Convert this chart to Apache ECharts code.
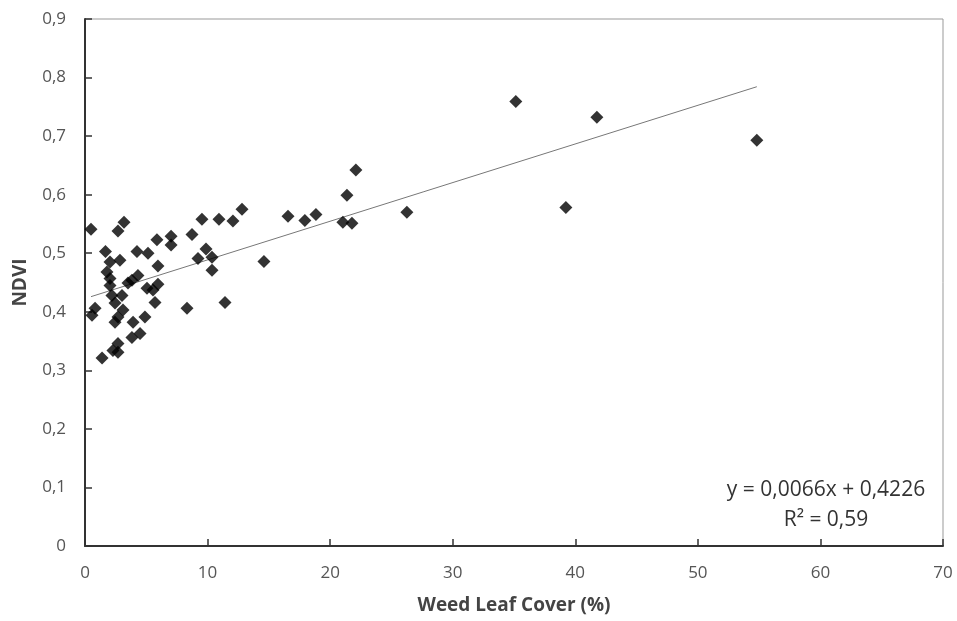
<!DOCTYPE html>
<html>
<head>
<meta charset="utf-8">
<script src="https://cdn.jsdelivr.net/npm/echarts@6/dist/echarts.min.js"></script>
<style>html,body{margin:0;padding:0;background:#fff}#c{width:957px;height:621px}</style>
</head>
<body>
<div id="c"></div>
<script>
// Weed leaf cover (%) values
const coverX = [0.49,3.18,2.69,1.67,4.24,5.14,5.87,2.04,2.85,1.79,2.04,4.32,3.83,2.04,3.51,2.20,3.02,2.45,0.82,0.57,3.10,2.69,2.45,3.92,4.49,3.83,2.69,2.28,1.39,2.69,5.95,5.06,5.95,5.55,5.71,4.89,7.02,7.02,8.32,8.73,9.54,9.87,9.22,10.36,10.36,10.93,12.07,12.81,11.42,14.6,16.56,17.94,18.84,22.1,21.37,21.04,21.78,26.26,35.15,39.23,41.76,54.81];
// NDVI values
const ndviY = [0.541,0.553,0.538,0.503,0.503,0.500,0.523,0.485,0.488,0.468,0.457,0.462,0.454,0.445,0.449,0.428,0.428,0.415,0.406,0.394,0.403,0.391,0.382,0.382,0.363,0.356,0.346,0.334,0.321,0.331,0.478,0.440,0.447,0.437,0.416,0.391,0.529,0.514,0.406,0.532,0.558,0.507,0.491,0.493,0.471,0.558,0.555,0.575,0.416,0.486,0.563,0.556,0.566,0.642,0.599,0.553,0.551,0.570,0.759,0.578,0.732,0.693];
// Trendline parameters (from the chart's equation)
const slope = 0.0066;
const intercept = 0.4226;
const eqLines = ['y = 0,0066x + 0,4226', 'R\u00b2 = 0,59'];
const xName = 'Weed Leaf Cover (%)';
const yName = 'NDVI';

const pts = coverX.map((x, i) => [x, ndviY[i]]);
const xMin = Math.min(...coverX), xMax = Math.max(...coverX);
const trend = [[xMin, slope * xMin + intercept], [xMax, slope * xMax + intercept]];

const chart = echarts.init(document.getElementById('c'));
const font = '"Open Sans", sans-serif';
chart.setOption({
  animation: false,
  grid: {left: 85, right: 14, top: 19, bottom: 75, show: true, borderColor: '#999', borderWidth: 1},
  xAxis: {
    type: 'value', min: 0, max: 70, interval: 10,
    name: xName, nameLocation: 'middle', nameGap: 50,
    nameTextStyle: {fontFamily: font, fontWeight: 'bold', fontSize: 19, color: '#444'},
    axisLine: {show: true, onZero: false, lineStyle: {color: '#333', width: 2}},
    axisTick: {show: true, inside: true, length: 7, lineStyle: {color: '#333', width: 1.5}},
    axisLabel: {fontFamily: font, fontSize: 17, color: '#555', margin: 19},
    splitLine: {show: false}
  },
  yAxis: {
    type: 'value', min: 0, max: 0.9, interval: 0.1,
    name: yName, nameLocation: 'middle', nameGap: 55, nameRotate: 90,
    nameTextStyle: {fontFamily: font, fontWeight: 'bold', fontSize: 19, color: '#444'},
    axisLine: {show: true, onZero: false, lineStyle: {color: '#333', width: 2}},
    axisTick: {show: true, inside: true, length: 7, lineStyle: {color: '#333', width: 1.5}},
    axisLabel: {fontFamily: font, fontSize: 17, color: '#555', margin: 19,
      formatter: v => v === 0 ? '0' : v.toFixed(1).replace('.', ',')},
    splitLine: {show: false}
  },
  series: [
    {type: 'line', data: trend, symbol: 'none', lineStyle: {color: '#777', width: 1}, z: 1, silent: true},
    {type: 'scatter', data: pts, symbol: 'diamond', symbolSize: 13, itemStyle: {color: '#000'}, z: 2}
  ],
  graphic: [
    {type: 'text', x: 826, y: 490, style: {text: eqLines[0], fontFamily: font, fontSize: 21, fill: '#333', align: 'center', verticalAlign: 'middle'}},
    {type: 'text', x: 826, y: 520, style: {text: eqLines[1], fontFamily: font, fontSize: 21, fill: '#333', align: 'center', verticalAlign: 'middle'}}
  ]
});
</script>
</body>
</html>
